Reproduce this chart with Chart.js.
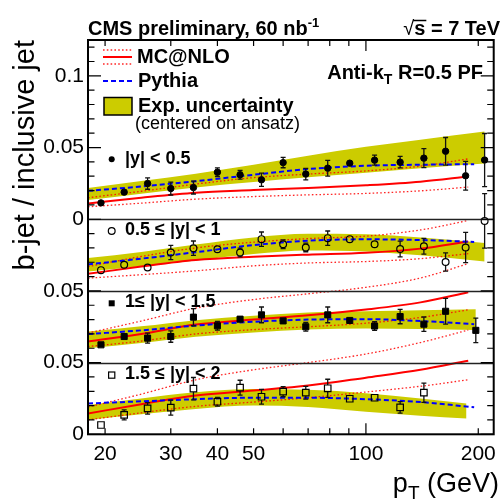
<!DOCTYPE html>
<html>
<head>
<meta charset="utf-8">
<script src="https://cdn.jsdelivr.net/npm/chart.js@4.4.1/dist/chart.umd.min.js"></script>
<style>
  html, body { margin: 0; padding: 0; background: #fff; }
</style>
</head>
<body>
<canvas id="c" width="503" height="499"></canvas>
<script>
// pT bin centres (GeV)
const ptBinsY1 = [19.5, 22.5, 26, 30, 34.5, 40, 46, 52.5, 60, 69, 79, 90.5, 105.5, 123.5, 143, 163.5, 185, 208];
const ptBinsY2 = [19.5, 22.5, 26, 30, 34.5, 40, 46, 52.5, 60, 69, 79, 90.5, 105.5, 123.5, 143, 163.5, 185, 208];
const ptBinsY3 = [19.5, 22.5, 26, 30, 34.5, 40, 46, 52.5, 60, 69, 79, 90.5, 105.5, 123.5, 143, 163.5, 197];
const ptBinsY4 = [19.5, 22.5, 26, 30, 34.5, 40, 46, 52.5, 60, 69, 79, 90.5, 105.5, 123.5, 143];

// measured b-jet / inclusive jet ratio and errors
const ratioY1 = [0.0114, 0.0189, 0.0249, 0.0214, 0.0221, 0.0328, 0.0310, 0.0275, 0.0395, 0.0315, 0.0356, 0.0391, 0.0412, 0.0398, 0.0426, 0.0474, 0.0303, 0.0413];
const errY1   = [0.0008, 0.0020, 0.0040, 0.0045, 0.0045, 0.0030, 0.0030, 0.0046, 0.0036, 0.0040, 0.0055, 0.0020, 0.0035, 0.0040, 0.0066, 0.0096, 0.0100, 0.0185];
const ratioY2 = [0.0145, 0.0182, 0.0163, 0.0268, 0.0298, 0.0291, 0.0268, 0.0361, 0.0326, 0.0303, 0.0368, 0.0361, 0.0326, 0.0292, 0.0312, 0.0202, 0.0303, 0.0488];
const errY2   = [0.0010, 0.0020, 0.0020, 0.0050, 0.0050, 0.0015, 0.0030, 0.0050, 0.0030, 0.0030, 0.0050, 0.0010, 0.0020, 0.0055, 0.0055, 0.0064, 0.0106, 0.0190];
const ratioY3 = [0.0124, 0.0182, 0.0171, 0.0182, 0.0317, 0.0257, 0.0303, 0.0333, 0.0291, 0.0250, 0.0333, 0.0294, 0.0255, 0.0321, 0.0268, 0.0358, 0.0225];
const errY3   = [0.0010, 0.0020, 0.0035, 0.0040, 0.0060, 0.0030, 0.0020, 0.0055, 0.0020, 0.0030, 0.0055, 0.0010, 0.0030, 0.0050, 0.0050, 0.0090, 0.0085];
const ratioY4 = [0.0065, 0.0135, 0.0181, 0.0186, 0.0318, 0.0227, 0.0325, 0.0262, 0.0297, 0.0290, 0.0321, 0.0248, 0.0255, 0.0188, 0.0290];
const errY4   = [0.0008, 0.0035, 0.0040, 0.0052, 0.0078, 0.0030, 0.0052, 0.0052, 0.0035, 0.0044, 0.0063, 0.0010, 0.0023, 0.0040, 0.0067];

// theory curves, sampled in pT
const ptCurve  = [18, 25, 35, 50, 70, 100, 140, 188];
const ptPythia = [18, 25, 35, 50, 70, 100, 140, 195];

const mcY1   = [0.0110, 0.0150, 0.0185, 0.0203, 0.0218, 0.0237, 0.0262, 0.0298];
const mcUpY1 = [0.0150, 0.0195, 0.0245, 0.0290, 0.0315, 0.0337, 0.0370, 0.0421];
const mcDnY1 = [0.0087, 0.0112, 0.0140, 0.0158, 0.0170, 0.0180, 0.0198, 0.0224];
const pyY1   = [0.0198, 0.0228, 0.0265, 0.0310, 0.0350, 0.0373, 0.0380, 0.0384];

const mcY2   = [0.0119, 0.0170, 0.0215, 0.0238, 0.0253, 0.0266, 0.0295, 0.0345];
const mcUpY2 = [0.0170, 0.0240, 0.0300, 0.0340, 0.0365, 0.0382, 0.0425, 0.0491];
const mcDnY2 = [0.0089, 0.0113, 0.0140, 0.0175, 0.0195, 0.0205, 0.0225, 0.0260];
const pyY2   = [0.0185, 0.0225, 0.0270, 0.0320, 0.0350, 0.0360, 0.0355, 0.0342];

const mcY3   = [0.0147, 0.0200, 0.0265, 0.0300, 0.0330, 0.0370, 0.0420, 0.0490];
const mcUpY3 = [0.0206, 0.0290, 0.0380, 0.0440, 0.0480, 0.0525, 0.0590, 0.0690];
const mcDnY3 = [0.0112, 0.0150, 0.0200, 0.0230, 0.0250, 0.0275, 0.0315, 0.0368];
const pyY3   = [0.0199, 0.0225, 0.0258, 0.0285, 0.0300, 0.0303, 0.0290, 0.0268];

const mcY4   = [0.0145, 0.0210, 0.0270, 0.0305, 0.0340, 0.0395, 0.0450, 0.0513];
const mcUpY4 = [0.0190, 0.0280, 0.0380, 0.0450, 0.0500, 0.0560, 0.0640, 0.0727];
const mcDnY4 = [0.0100, 0.0150, 0.0195, 0.0225, 0.0255, 0.0295, 0.0335, 0.0380];
const pyY4   = [0.0215, 0.0230, 0.0245, 0.0255, 0.0255, 0.0245, 0.0225, 0.0188];

// experimental uncertainty band (edges)
const ptBandY1 = [18, 25, 35, 50, 70, 100, 140, 208];
const bandHiY1 = [0.0218, 0.0266, 0.0318, 0.0380, 0.0443, 0.0505, 0.0555, 0.0612];
const bandLoY1 = [0.0134, 0.0178, 0.0222, 0.0260, 0.0293, 0.0325, 0.0355, 0.0388];
const ptBandY2 = [18, 25, 35, 50, 70, 100, 140, 208];
const bandHiY2 = [0.0229, 0.0272, 0.0323, 0.0373, 0.0398, 0.0395, 0.0372, 0.0335];
const bandLoY2 = [0.0135, 0.0172, 0.0213, 0.0257, 0.0282, 0.0275, 0.0248, 0.0205];
const ptBandY3 = [18, 25, 35, 50, 70, 100, 140, 197];
const bandHiY3 = [0.0217, 0.0253, 0.0296, 0.0326, 0.0349, 0.0358, 0.0365, 0.0372];
const bandLoY3 = [0.0101, 0.0137, 0.0180, 0.0210, 0.0231, 0.0238, 0.0235, 0.0228];
const ptBandY4 = [18, 25, 35, 50, 70, 100, 140, 186];
const bandHiY4 = [0.0204, 0.0250, 0.0293, 0.0316, 0.0310, 0.0287, 0.0250, 0.0215];
const bandLoY4 = [0.0100, 0.0140, 0.0177, 0.0200, 0.0190, 0.0157, 0.0130, 0.0111];

// axes
const xTickValues = [20, 30, 40, 50, 60, 70, 80, 90, 100, 200];
const xTickLabels = ['20', '30', '40', '50', '', '', '', '', '100', '200'];
const yTickValues = [-0.15, -0.1, -0.05, 0, 0.05, 0.1];
const yTickLabels = ['0', '0.05', '0.05', '0', '0.05', '0.1'];

const FAM = "'Liberation Sans', Arial, Helvetica, sans-serif";
const BAND = '#cccc00';
const RED = '#ff0000';
const BLUE = '#0000ff';

// each |y| panel is drawn shifted down by 0.05 on one shared y axis
const panelShift = [0, -0.05, -0.1, -0.15];

const panels = [
    { pt: ptBinsY1, r: ratioY1, e: errY1, mc: mcY1, up: mcUpY1, dn: mcDnY1, py: pyY1, bpt: ptBandY1, hi: bandHiY1, lo: bandLoY1,
      marker: { style: 'circle', radius: 3.2, fill: '#000', bw: 1, gap: 3.2 } },
    { pt: ptBinsY2, r: ratioY2, e: errY2, mc: mcY2, up: mcUpY2, dn: mcDnY2, py: pyY2, bpt: ptBandY2, hi: bandHiY2, lo: bandLoY2,
      marker: { style: 'circle', radius: 3.4, fill: 'rgba(0,0,0,0)', bw: 1.2, gap: 3.6 } },
    { pt: ptBinsY3, r: ratioY3, e: errY3, mc: mcY3, up: mcUpY3, dn: mcDnY3, py: pyY3, bpt: ptBandY3, hi: bandHiY3, lo: bandLoY3,
      marker: { style: 'rect', radius: 4.3, fill: '#000', bw: 1, gap: 3 } },
    { pt: ptBinsY4, r: ratioY4, e: errY4, mc: mcY4, up: mcUpY4, dn: mcDnY4, py: pyY4, bpt: ptBandY4, hi: bandHiY4, lo: bandLoY4,
      marker: { style: 'rect', radius: 4.6, fill: 'rgba(0,0,0,0)', bw: 1.2, gap: 3.3 } }
];

function pairs(xs, ys, shift) {
    return xs.map((x, i) => ({ x: x, y: ys[i] + shift }));
}

const datasets = [];
panels.forEach((p, k) => {
    const s = panelShift[k];
    datasets.push({
        data: pairs(p.pt, p.r, s), errors: p.e, gap: p.marker.gap, order: 0,
        showLine: false, pointStyle: p.marker.style, pointRadius: p.marker.radius,
        pointBackgroundColor: p.marker.fill, pointBorderColor: '#000', pointBorderWidth: p.marker.bw
    });
    const line = (ys, xs, color, width, dash) => ({
        data: pairs(xs, ys, s), order: 1, borderColor: color, borderWidth: width, borderDash: dash,
        pointRadius: 0, cubicInterpolationMode: 'monotone', fill: false
    });
    datasets.push(line(p.py, ptPythia, BLUE, 2, [5, 3]));
    datasets.push(line(p.mc, ptCurve, RED, 2, []));
    datasets.push(line(p.up, ptCurve, 'rgba(255,0,0,0.85)', 1.3, [1.6, 2.2]));
    datasets.push(line(p.dn, ptCurve, 'rgba(255,0,0,0.85)', 1.3, [1.6, 2.2]));
    datasets.push({ data: pairs(p.bpt, p.hi, s), order: 2, borderWidth: 0, pointRadius: 0,
        cubicInterpolationMode: 'monotone', fill: '+1', backgroundColor: BAND });
    datasets.push({ data: pairs(p.bpt, p.lo, s), order: 2, borderWidth: 0, pointRadius: 0,
        cubicInterpolationMode: 'monotone', fill: false });
});

function rich(ctx, parts, x, y, align) {
    let total = 0;
    const ws = parts.map(p => {
        ctx.font = (p.b ? 'bold ' : '') + p.s + 'px ' + FAM;
        const w = ctx.measureText(p.t).width;
        total += w;
        return w;
    });
    let cx = align === 'right' ? x - total : x;
    const starts = [];
    parts.forEach((p, i) => {
        ctx.font = (p.b ? 'bold ' : '') + p.s + 'px ' + FAM;
        starts.push(cx);
        ctx.fillText(p.t, cx, y + (p.dy || 0));
        cx += ws[i];
    });
    return { starts: starts, widths: ws };
}

const rootStyle = {
    id: 'rootStyle',
    beforeDatasetDraw(chart, args) {
        const ds = chart.data.datasets[args.index];
        if (!ds.errors) return;
        const xs = chart.scales.x, ys = chart.scales.y, a = chart.chartArea;
        const ctx = chart.ctx;
        ctx.save();
        ctx.beginPath();
        ctx.rect(a.left, a.top, a.right - a.left, a.bottom - a.top);
        ctx.clip();
        ctx.strokeStyle = '#111';
        ctx.lineWidth = 1.3;
        ds.data.forEach((d, i) => {
            const px = xs.getPixelForValue(d.x);
            const py = ys.getPixelForValue(d.y);
            const top = ys.getPixelForValue(d.y + ds.errors[i]);
            const bot = ys.getPixelForValue(d.y - ds.errors[i]);
            ctx.beginPath();
            if (top < py - ds.gap) {
                ctx.moveTo(px, py - ds.gap); ctx.lineTo(px, top);
                ctx.moveTo(px - 2.5, top); ctx.lineTo(px + 2.5, top);
            }
            if (bot > py + ds.gap) {
                ctx.moveTo(px, py + ds.gap); ctx.lineTo(px, bot);
                ctx.moveTo(px - 2.5, bot); ctx.lineTo(px + 2.5, bot);
            }
            ctx.stroke();
        });
        ctx.restore();
    },
    afterDatasetsDraw(chart) {
        const xs = chart.scales.x, ys = chart.scales.y, a = chart.chartArea;
        const ctx = chart.ctx;
        ctx.save();
        // panel separators
        ctx.lineWidth = 1.5;
        ctx.strokeStyle = '#222';
        [0, -0.05, -0.1].forEach(v => {
            const y = Math.round(ys.getPixelForValue(v)) + 0.5;
            ctx.beginPath(); ctx.moveTo(a.left, y); ctx.lineTo(a.right, y); ctx.stroke();
        });
        // inner y ticks, both sides
        ctx.strokeStyle = '#000';
        ctx.lineWidth = 1.2;
        for (let i = 0; i <= 27; i++) {
            const v = -0.15 + i * 0.01;
            const y = ys.getPixelForValue(v);
            const len = i % 5 === 0 ? 13 : 6.5;
            ctx.beginPath();
            ctx.moveTo(a.left, y); ctx.lineTo(a.left + len, y);
            ctx.moveTo(a.right, y); ctx.lineTo(a.right - len, y);
            ctx.stroke();
        }
        // inner x ticks, top and bottom
        xTickValues.forEach(v => {
            const x = xs.getPixelForValue(v);
            const len = v === 100 ? 11 : 6;
            ctx.beginPath();
            ctx.moveTo(x, a.bottom); ctx.lineTo(x, a.bottom - len);
            ctx.moveTo(x, a.top); ctx.lineTo(x, a.top + len);
            ctx.stroke();
        });
        // frame
        ctx.lineWidth = 2;
        ctx.strokeRect(a.left, a.top, a.right - a.left, a.bottom - a.top);
        ctx.restore();
    },
    afterDraw(chart) {
        const ctx = chart.ctx;
        ctx.save();
        ctx.fillStyle = '#000';
        ctx.textBaseline = 'alphabetic';
        ctx.textAlign = 'left';

        // header
        rich(ctx, [{ t: 'CMS preliminary, 60 nb', s: 20, b: true }, { t: '-1', s: 13, b: true, dy: -8 }], 88, 35, 'left');
        const r = rich(ctx, [{ t: '\u221A', s: 20, b: false }, { t: 's', s: 20, b: true }, { t: ' = 7 TeV', s: 20, b: true }], 500, 35, 'right');
        ctx.lineWidth = 1.5;
        ctx.beginPath();
        ctx.moveTo(r.starts[1] - 1, 20.5); ctx.lineTo(r.starts[1] + r.widths[1] + 1, 20.5);
        ctx.stroke();

        // axis titles
        ctx.font = '29px ' + FAM;
        ctx.save();
        ctx.translate(34, 40);
        ctx.rotate(-Math.PI / 2);
        ctx.textAlign = 'right';
        ctx.fillText('b-jet / inclusive jet', 0, 0);
        ctx.restore();
        rich(ctx, [{ t: 'p', s: 27 }, { t: 'T', s: 19, dy: 7 }, { t: ' (GeV)', s: 27 }], 499, 492, 'right');

        // legend
        ctx.save();
        ctx.strokeStyle = 'rgba(255,0,0,0.85)';
        ctx.lineWidth = 1.3;
        ctx.setLineDash([1.6, 2.2]);
        [50, 64].forEach(y => { ctx.beginPath(); ctx.moveTo(103, y); ctx.lineTo(132, y); ctx.stroke(); });
        ctx.setLineDash([]);
        ctx.strokeStyle = RED; ctx.lineWidth = 2;
        ctx.beginPath(); ctx.moveTo(103, 57); ctx.lineTo(132, 57); ctx.stroke();
        ctx.strokeStyle = BLUE; ctx.setLineDash([5, 3]);
        ctx.beginPath(); ctx.moveTo(103, 81); ctx.lineTo(132, 81); ctx.stroke();
        ctx.setLineDash([]);
        ctx.fillStyle = BAND; ctx.fillRect(104, 97.5, 28, 17.5);
        ctx.strokeStyle = '#000'; ctx.lineWidth = 1.5; ctx.strokeRect(104, 97.5, 28, 17.5);
        ctx.restore();

        ctx.textBaseline = 'middle';
        rich(ctx, [{ t: 'MC@NLO', s: 20, b: true }], 137, 57, 'left');
        rich(ctx, [{ t: 'Pythia', s: 20, b: true }], 138, 81, 'left');
        rich(ctx, [{ t: 'Exp. uncertainty', s: 20, b: true }], 138, 106, 'left');
        rich(ctx, [{ t: '(centered on ansatz)', s: 18 }], 135, 124, 'left');
        ctx.textBaseline = 'alphabetic';
        rich(ctx, [{ t: 'Anti-k', s: 20, b: true }, { t: 'T', s: 14, b: true, dy: 5 }, { t: ' R=0.5 PF', s: 20, b: true }], 483, 79, 'right');

        // panel labels with their marker
        ctx.lineWidth = 1.2;
        ctx.strokeStyle = '#000';
        ctx.beginPath(); ctx.arc(111.7, 159.3, 3, 0, 2 * Math.PI); ctx.fill();
        ctx.beginPath(); ctx.arc(111.7, 231, 3.4, 0, 2 * Math.PI); ctx.stroke();
        ctx.fillRect(108.7, 300.3, 6, 6);
        ctx.strokeRect(108.6, 372, 6.2, 6.2);
        ctx.textBaseline = 'middle';
        rich(ctx, [{ t: '|y| < 0.5', s: 18, b: true }], 125, 159, 'left');
        rich(ctx, [{ t: '0.5 \u2264 |y| < 1', s: 18, b: true }], 125, 230.5, 'left');
        rich(ctx, [{ t: '1\u2264 |y| < 1.5', s: 18, b: true }], 125, 302, 'left');
        rich(ctx, [{ t: '1.5 \u2264 |y| < 2', s: 18, b: true }], 125, 374.5, 'left');
        ctx.restore();
    }
};

new Chart(document.getElementById('c'), {
    type: 'line',
    data: { datasets: datasets },
    plugins: [rootStyle],
    options: {
        responsive: false,
        animation: false,
        devicePixelRatio: 1,
        layout: { padding: { left: 0, right: 3.5, top: 40, bottom: 0 } },
        plugins: { legend: { display: false }, tooltip: { enabled: false } },
        scales: {
            x: {
                type: 'logarithmic', min: 18, max: 220,
                grid: { display: false, drawTicks: false }, border: { display: false },
                afterBuildTicks: s => { s.ticks = xTickValues.map(v => ({ value: v })); },
                afterFit: s => { s.height = 64.7; },
                ticks: {
                    autoSkip: false, maxRotation: 0, padding: 7, color: '#000',
                    font: { family: FAM, size: 21 },
                    callback: v => xTickLabels[xTickValues.indexOf(v)]
                }
            },
            y: {
                type: 'linear', min: -0.15, max: 0.125,
                grid: { display: false, drawTicks: false }, border: { display: false },
                afterBuildTicks: s => { s.ticks = yTickValues.map(v => ({ value: v })); },
                afterFit: s => { s.width = 88; },
                ticks: {
                    padding: 4, color: '#000',
                    font: { family: FAM, size: 21 },
                    callback: v => {
                        const i = yTickValues.findIndex(t => Math.abs(t - v) < 1e-9);
                        return i >= 0 ? yTickLabels[i] : '';
                    }
                }
            }
        }
    }
});
</script>
</body>
</html>
